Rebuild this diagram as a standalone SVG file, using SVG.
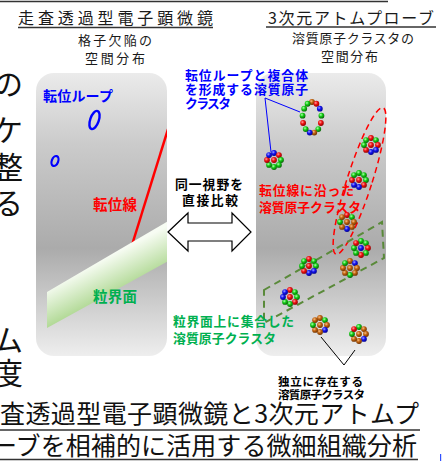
<svg xmlns="http://www.w3.org/2000/svg" width="442" height="461" viewBox="0 0 442 461">
<defs>
  <linearGradient id="panelFill" x1="0" y1="0" x2="0" y2="1">
    <stop offset="0" stop-color="#ebebeb"/>
    <stop offset="0.25" stop-color="#cbcbcb"/>
    <stop offset="0.62" stop-color="#ababab"/>
    <stop offset="1" stop-color="#eeeeee"/>
  </linearGradient>
  <linearGradient id="bandFill" gradientUnits="userSpaceOnUse" x1="107" y1="257" x2="123" y2="288">
    <stop offset="0" stop-color="#f7fcf3"/>
    <stop offset="1" stop-color="#b3da98"/>
  </linearGradient>
  <radialGradient id="atR" cx="0.38" cy="0.35" r="0.68">
    <stop offset="0" stop-color="#ffa0a0"/><stop offset="0.45" stop-color="#f01212"/><stop offset="1" stop-color="#8a0000"/>
  </radialGradient>
  <radialGradient id="atG" cx="0.38" cy="0.35" r="0.68">
    <stop offset="0" stop-color="#b0ffb0"/><stop offset="0.45" stop-color="#14cc14"/><stop offset="1" stop-color="#056005"/>
  </radialGradient>
  <radialGradient id="atB" cx="0.38" cy="0.35" r="0.68">
    <stop offset="0" stop-color="#a0a0ff"/><stop offset="0.45" stop-color="#1414f0"/><stop offset="1" stop-color="#00008a"/>
  </radialGradient>
  <radialGradient id="atO" cx="0.38" cy="0.35" r="0.68">
    <stop offset="0" stop-color="#f4c088"/><stop offset="0.45" stop-color="#c4640f"/><stop offset="1" stop-color="#6a3000"/>
  </radialGradient>
  <clipPath id="clipL"><rect x="36" y="73" width="131" height="283" rx="18"/></clipPath>
</defs>
<style>
  text { font-family: "Noto Sans CJK JP", "Noto Sans", sans-serif; }
  .title { font-size: 16px; fill: #1a1a1a; }
  .sub { font-size: 13px; fill: #1a1a1a; }
  .big { font-size: 30px; fill: #111; }
  .foot { font-size: 25px; fill: #111; }
  .lb { font-size: 12.8px; font-weight: bold; }
  .sm { font-size: 11.5px; font-weight: bold; fill: #000; }
  .blue { fill: #0000ff; }
  .red { fill: #ff0000; }
  .grn { fill: #00b050; }
  .blk { fill: #000; }
  .uline { stroke: #333; stroke-width: 1.5; }
  .panel { fill: url(#panelFill); }
  .r { fill: url(#atR); }
  .g { fill: url(#atG); }
  .b { fill: url(#atB); }
  .o { fill: url(#atO); }
  .lead { fill: none; stroke-width: 1; }
</style>

<!-- page background -->
<rect width="442" height="461" fill="#ffffff"/>

<!-- text running off the top and left edges -->
<g id="page-frame">
  <line class="uline" x1="0" y1="1.5" x2="388" y2="1.5"/>
  <text class="big" x="-7" y="95">の</text>
  <text class="big" x="-7" y="141">ケ</text>
  <text class="big" x="-7" y="178">整</text>
  <text class="big" x="-7" y="214">る</text>
  <text class="big" x="-7" y="351">ム</text>
  <text class="big" x="-7" y="384">度</text>
</g>

<!-- column headings -->
<g id="heading-stem">
  <text class="title" x="18" y="24" textLength="195">走査透過型電子顕微鏡</text>
  <line class="uline" x1="18" y1="27.5" x2="213" y2="27.5"/>
  <text class="sub" x="78" y="45" textLength="74">格子欠陥の</text>
  <text class="sub" x="85" y="63" textLength="60">空間分布</text>
</g>
<g id="heading-apt">
  <text class="title" x="268" y="23.5" textLength="166">3次元アトムプローブ</text>
  <line class="uline" x1="266" y1="27" x2="436" y2="27"/>
  <text class="sub" x="292" y="43" textLength="122">溶質原子クラスタの</text>
  <text class="sub" x="321" y="61" textLength="57">空間分布</text>
</g>

<!-- STEM image panel -->
<g id="stem-panel">
  <rect class="panel" x="36" y="73" width="131" height="283" rx="18"/>
  <g clip-path="url(#clipL)">
    <line x1="168" y1="129" x2="132" y2="245" stroke="#ff0000" stroke-width="2.5"/>
    <polygon points="47,292 170,220 170,260 47,328" fill="url(#bandFill)"/>
  </g>
  <ellipse cx="94.5" cy="120" rx="4.3" ry="9.5" transform="rotate(19 94.5 120)" fill="none" stroke="#0000ff" stroke-width="2.4"/>
  <ellipse cx="55" cy="161" rx="3.2" ry="5.2" transform="rotate(20 55 161)" fill="none" stroke="#0000ff" stroke-width="2.2"/>
  <text class="lb blue" x="43" y="101" style="font-size:14px" textLength="70">転位ループ</text>
  <text class="lb red" x="93" y="210" style="font-size:14.5px" textLength="44">転位線</text>
  <text class="lb grn" x="93" y="302" style="font-size:14.5px" textLength="44">粒界面</text>
</g>

<!-- comparison arrow -->
<g id="compare">
  <text class="lb blk" x="175" y="189" textLength="68">同一視野を</text>
  <text class="lb blk" x="182" y="205" textLength="56">直接比較</text>
  <polygon points="168,232 188,213 188,223 232,223 232,213 251,232 232,251 232,241 188,241 188,251" fill="#ffffff" stroke="#000" stroke-width="1.2" stroke-linejoin="miter"/>
</g>

<!-- atom probe panel -->
<g id="apt-panel">
  <rect class="panel" x="256" y="73" width="130" height="283" rx="18"/>
</g>

<!-- regions and leader lines -->
<g id="connectors">
  <ellipse cx="359.5" cy="181" rx="12.5" ry="77" transform="rotate(17.8 359.5 181)" fill="none" stroke="#ff0000" stroke-width="1.5" stroke-dasharray="6 4"/>
  <polygon points="264,290 382,222 384,258 264,323" fill="none" stroke="#5a8a3a" stroke-width="2" stroke-dasharray="7 5"/>
  <polyline class="lead" points="300,112 265,98 271,152" stroke="#0000ff"/>
  <polyline class="lead" points="321,337 344,365 355,350" stroke="#000"/>
</g>

<!-- dislocation loop decorated with solute atoms -->
<g id="cluster-loop" transform="translate(312 117.5)">
  <circle class="o" cx="0" cy="-15.5" r="2.9"/>
  <circle class="r" cx="4.41" cy="-13.73" r="2.9"/>
  <circle class="b" cx="7.82" cy="-8.81" r="2.9"/>
  <circle class="g" cx="9.43" cy="-1.87" r="2.9"/>
  <circle class="r" cx="8.88" cy="5.5" r="2.9"/>
  <circle class="g" cx="6.3" cy="11.6" r="2.9"/>
  <circle class="o" cx="2.27" cy="15.05" r="2.9"/>
  <circle class="b" cx="-2.27" cy="15.05" r="2.9"/>
  <circle class="g" cx="-6.3" cy="11.6" r="2.9"/>
  <circle class="r" cx="-8.88" cy="5.5" r="2.9"/>
  <circle class="g" cx="-9.43" cy="-1.87" r="2.9"/>
  <circle class="g" cx="-7.82" cy="-8.81" r="2.9"/>
  <circle class="g" cx="-4.41" cy="-13.73" r="2.9"/>
</g>

<!-- solute clusters: ring of eight atoms round a core atom -->
<g id="cluster-1" transform="translate(274 160)">
  <circle class="b" cx="0" cy="-7" r="2.9"/><circle class="r" cx="4.95" cy="-4.95" r="2.9"/>
  <circle class="g" cx="7" cy="0" r="2.9"/><circle class="g" cx="4.95" cy="4.95" r="2.9"/>
  <circle class="g" cx="0" cy="7" r="2.9"/><circle class="g" cx="-4.95" cy="4.95" r="2.9"/>
  <circle class="r" cx="-7" cy="0" r="2.9"/><circle class="b" cx="-4.95" cy="-4.95" r="2.9"/>
  <circle class="r" cx="0" cy="0" r="2.9"/>
</g>
<g id="cluster-2" transform="translate(371 145)">
  <circle class="r" cx="0" cy="-7" r="2.9"/><circle class="g" cx="4.95" cy="-4.95" r="2.9"/>
  <circle class="r" cx="7" cy="0" r="2.9"/><circle class="b" cx="4.95" cy="4.95" r="2.9"/>
  <circle class="b" cx="0" cy="7" r="2.9"/><circle class="r" cx="-4.95" cy="4.95" r="2.9"/>
  <circle class="g" cx="-7" cy="0" r="2.9"/><circle class="g" cx="-4.95" cy="-4.95" r="2.9"/>
  <circle class="r" cx="0" cy="0" r="2.9"/>
</g>
<g id="cluster-3" transform="translate(359 180)">
  <circle class="g" cx="0" cy="-7" r="2.9"/><circle class="g" cx="4.95" cy="-4.95" r="2.9"/>
  <circle class="g" cx="7" cy="0" r="2.9"/><circle class="r" cx="4.95" cy="4.95" r="2.9"/>
  <circle class="b" cx="0" cy="7" r="2.9"/><circle class="b" cx="-4.95" cy="4.95" r="2.9"/>
  <circle class="r" cx="-7" cy="0" r="2.9"/><circle class="g" cx="-4.95" cy="-4.95" r="2.9"/>
  <circle class="r" cx="0" cy="0" r="2.9"/>
</g>
<g id="cluster-4" transform="translate(347 222)">
  <circle class="r" cx="0" cy="-7" r="2.9"/><circle class="g" cx="4.95" cy="-4.95" r="2.9"/>
  <circle class="o" cx="7" cy="0" r="2.9"/><circle class="o" cx="4.95" cy="4.95" r="2.9"/>
  <circle class="b" cx="0" cy="7" r="2.9"/><circle class="o" cx="-4.95" cy="4.95" r="2.9"/>
  <circle class="g" cx="-7" cy="0" r="2.9"/><circle class="o" cx="-4.95" cy="-4.95" r="2.9"/>
  <circle class="o" cx="0" cy="0" r="2.9"/>
</g>
<g id="cluster-5" transform="translate(361 248)">
  <circle class="g" cx="0" cy="-7" r="2.9"/><circle class="g" cx="4.95" cy="-4.95" r="2.9"/>
  <circle class="r" cx="7" cy="0" r="2.9"/><circle class="g" cx="4.95" cy="4.95" r="2.9"/>
  <circle class="r" cx="0" cy="7" r="2.9"/><circle class="g" cx="-4.95" cy="4.95" r="2.9"/>
  <circle class="g" cx="-7" cy="0" r="2.9"/><circle class="r" cx="-4.95" cy="-4.95" r="2.9"/>
  <circle class="b" cx="0" cy="0" r="2.9"/>
</g>
<g id="cluster-6" transform="translate(309 266)">
  <circle class="r" cx="0" cy="-7" r="2.9"/><circle class="g" cx="4.95" cy="-4.95" r="2.9"/>
  <circle class="g" cx="7" cy="0" r="2.9"/><circle class="b" cx="4.95" cy="4.95" r="2.9"/>
  <circle class="b" cx="0" cy="7" r="2.9"/><circle class="r" cx="-4.95" cy="4.95" r="2.9"/>
  <circle class="g" cx="-7" cy="0" r="2.9"/><circle class="g" cx="-4.95" cy="-4.95" r="2.9"/>
  <circle class="r" cx="0" cy="0" r="2.9"/>
</g>
<g id="cluster-7" transform="translate(350 268)">
  <circle class="o" cx="0" cy="-7" r="2.9"/><circle class="b" cx="4.95" cy="-4.95" r="2.9"/>
  <circle class="o" cx="7" cy="0" r="2.9"/><circle class="o" cx="4.95" cy="4.95" r="2.9"/>
  <circle class="g" cx="0" cy="7" r="2.9"/><circle class="o" cx="-4.95" cy="4.95" r="2.9"/>
  <circle class="o" cx="-7" cy="0" r="2.9"/><circle class="g" cx="-4.95" cy="-4.95" r="2.9"/>
  <circle class="o" cx="0" cy="0" r="2.9"/>
</g>
<g id="cluster-8" transform="translate(290 297)">
  <circle class="r" cx="0" cy="-7" r="2.9"/><circle class="g" cx="4.95" cy="-4.95" r="2.9"/>
  <circle class="g" cx="7" cy="0" r="2.9"/><circle class="r" cx="4.95" cy="4.95" r="2.9"/>
  <circle class="g" cx="0" cy="7" r="2.9"/><circle class="g" cx="-4.95" cy="4.95" r="2.9"/>
  <circle class="b" cx="-7" cy="0" r="2.9"/><circle class="b" cx="-4.95" cy="-4.95" r="2.9"/>
  <circle class="r" cx="0" cy="0" r="2.9"/>
</g>
<g id="cluster-9" transform="translate(320 325)">
  <circle class="o" cx="0" cy="-7" r="2.9"/><circle class="g" cx="4.95" cy="-4.95" r="2.9"/>
  <circle class="o" cx="7" cy="0" r="2.9"/><circle class="b" cx="4.95" cy="4.95" r="2.9"/>
  <circle class="o" cx="0" cy="7" r="2.9"/><circle class="o" cx="-4.95" cy="4.95" r="2.9"/>
  <circle class="g" cx="-7" cy="0" r="2.9"/><circle class="o" cx="-4.95" cy="-4.95" r="2.9"/>
  <circle class="o" cx="0" cy="0" r="2.9"/>
</g>
<g id="cluster-10" transform="translate(359 334)">
  <circle class="g" cx="0" cy="-7" r="2.9"/><circle class="o" cx="4.95" cy="-4.95" r="2.9"/>
  <circle class="o" cx="7" cy="0" r="2.9"/><circle class="b" cx="4.95" cy="4.95" r="2.9"/>
  <circle class="o" cx="0" cy="7" r="2.9"/><circle class="o" cx="-4.95" cy="4.95" r="2.9"/>
  <circle class="g" cx="-7" cy="0" r="2.9"/><circle class="r" cx="-4.95" cy="-4.95" r="2.9"/>
  <circle class="o" cx="0" cy="0" r="2.9"/>
</g>

<!-- cluster labels -->
<g id="label-loop">
  <text class="lb blue" x="185" y="79.5" textLength="123">転位ループと複合体</text>
  <text class="lb blue" x="185" y="94" textLength="123">を形成する溶質原子</text>
  <text class="lb blue" x="185" y="108" textLength="46">クラスタ</text>
</g>
<g id="label-dislocation">
  <text class="lb red" x="259" y="195" textLength="95">転位線に沿った</text>
  <text class="lb red" x="259" y="212" textLength="102">溶質原子クラスタ</text>
</g>
<g id="label-boundary">
  <text class="lb grn" x="173" y="326" textLength="121">粒界面上に集合した</text>
  <text class="lb grn" x="173" y="343" textLength="103">溶質原子クラスタ</text>
</g>
<g id="label-isolated">
  <text class="sm" x="278" y="386" textLength="85">独立に存在する</text>
  <text class="sm" x="278" y="399" textLength="87">溶質原子クラスタ</text>
</g>

<!-- caption along the bottom edge -->
<g id="caption">
  <text class="foot" x="0" y="423" textLength="419">査透過型電子顕微鏡と3次元アトムプ</text>
  <line class="uline" x1="0" y1="430" x2="420" y2="430"/>
  <text class="foot" x="-8" y="455" textLength="425">ーブを相補的に活用する微細組織分析</text>
  <line class="uline" x1="0" y1="459.5" x2="418" y2="459.5"/>
  <rect x="440" y="454" width="1.2" height="7" fill="#3050ff"/>
</g>
</svg>
